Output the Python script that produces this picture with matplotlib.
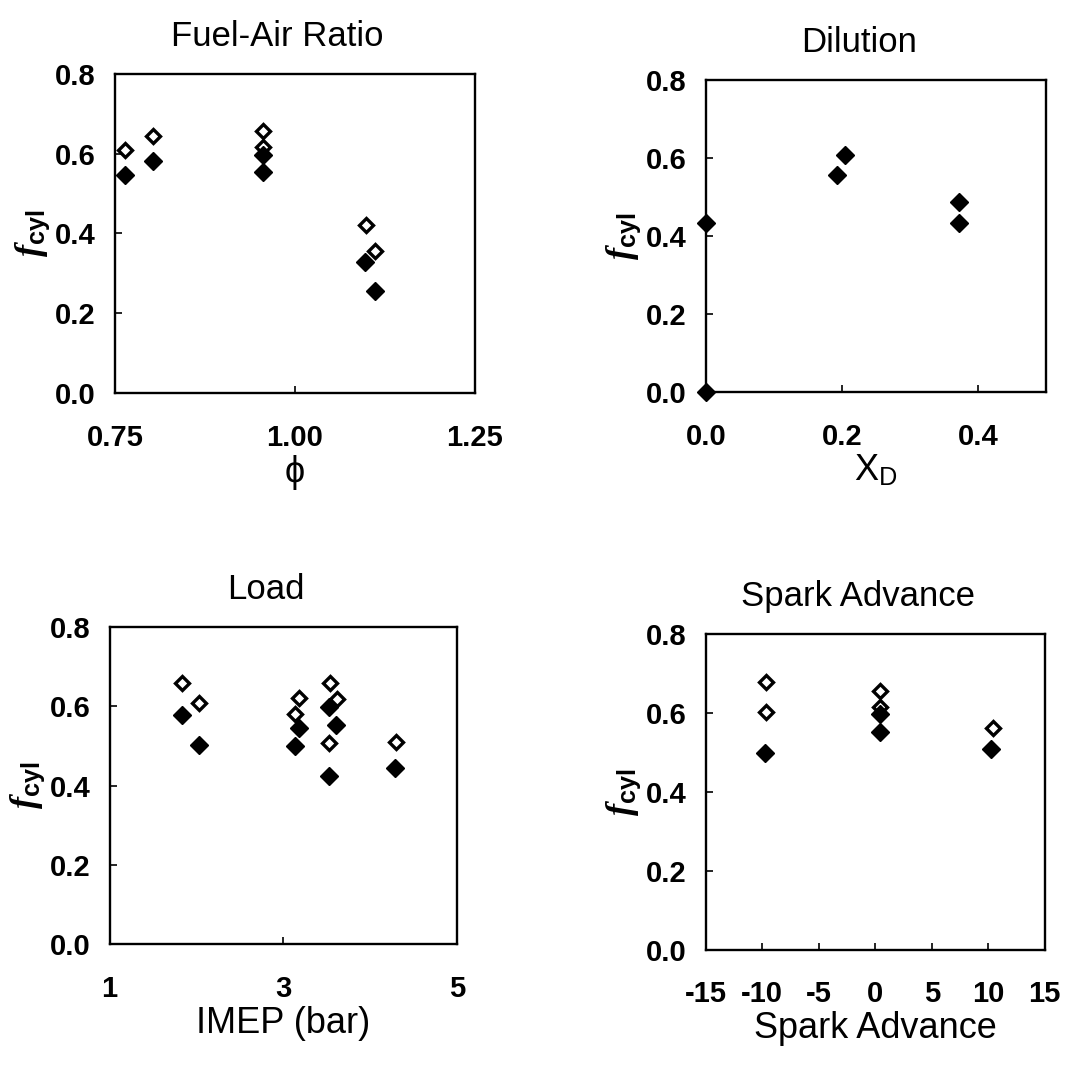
import matplotlib
matplotlib.use("Agg")
import matplotlib.pyplot as plt

plt.rcParams["font.family"] = ["Liberation Sans", "DejaVu Sans"]
plt.rcParams["mathtext.fontset"] = "custom"
plt.rcParams["mathtext.rm"] = "Liberation Sans"
plt.rcParams["mathtext.it"] = "Liberation Serif:italic:bold"
plt.rcParams["mathtext.bf"] = "Liberation Sans:bold"

# Fuel-air ratio panel
phi_open = [0.764, 0.803, 0.956, 0.956, 1.099, 1.112]
fcyl_phi_open = [0.61, 0.645, 0.657, 0.617, 0.422, 0.357]
phi_filled = [0.764, 0.803, 0.956, 0.956, 1.097, 1.111]
fcyl_phi_filled = [0.545, 0.58, 0.597, 0.553, 0.328, 0.255]

# Dilution panel
xd_filled = [0.0, 0.0, 0.193, 0.204, 0.372, 0.372]
fcyl_xd_filled = [0.0, 0.433, 0.556, 0.608, 0.487, 0.433]

# Load panel
imep_open = [1.83, 2.03, 3.18, 3.13, 3.54, 3.62, 3.53, 4.29]
fcyl_imep_open = [0.658, 0.607, 0.620, 0.580, 0.658, 0.618, 0.508, 0.511]
imep_filled = [1.83, 2.03, 3.18, 3.13, 3.53, 3.61, 3.53, 4.28]
fcyl_imep_filled = [0.577, 0.502, 0.544, 0.500, 0.597, 0.553, 0.424, 0.445]

# Spark advance panel
spark_open = [-9.7, -9.7, 0.4, 0.4, 10.4]
fcyl_spark_open = [0.678, 0.602, 0.655, 0.616, 0.562]
spark_filled = [-9.8, 0.4, 0.4, 10.2]
fcyl_spark_filled = [0.498, 0.597, 0.553, 0.508]

y_ticks = [0.0, 0.2, 0.4, 0.6, 0.8]


def style_axes(ax, title, xlabel, xlim, xticks, xticklabels):
    ax.set_xlim(xlim)
    ax.set_ylim(0, 0.8)
    ax.set_xticks(xticks)
    ax.set_xticklabels(xticklabels)
    ax.set_yticks(y_ticks)
    ax.set_yticklabels([f"{v:.1f}" for v in y_ticks])
    for s in ax.spines.values():
        s.set_linewidth(1.7)
    ax.tick_params(direction="in", length=5, width=1.2, labelsize=21)
    ax.tick_params(axis="x", pad=22)
    ax.tick_params(axis="y", pad=14)
    for lab in ax.get_xticklabels() + ax.get_yticklabels():
        lab.set_fontweight("bold")
    ax.set_title(title, fontsize=25, pad=20, x=0.45)
    ax.set_xlabel(xlabel, fontsize=26, labelpad=2)
    ax.set_ylabel(r"$\mathit{f}_{\mathbf{cyl}}$", fontsize=26, labelpad=2)


def plot_points(ax, xo, yo, xf, yf):
    if xo:
        ax.plot(xo, yo, "D", ms=7.5, mfc="white", mec="black", mew=2.4, clip_on=False)
    ax.plot(xf, yf, "D", ms=9, mfc="black", mec="black", clip_on=False)


fig = plt.figure(figsize=(10.86, 10.66), dpi=100)
ax1 = fig.add_axes([0.106, 0.631, 0.331, 0.300])
ax2 = fig.add_axes([0.650, 0.632, 0.313, 0.293])
ax3 = fig.add_axes([0.101, 0.114, 0.320, 0.298])
ax4 = fig.add_axes([0.650, 0.109, 0.312, 0.296])

plot_points(ax1, phi_open, fcyl_phi_open, phi_filled, fcyl_phi_filled)
style_axes(ax1, "Fuel-Air Ratio", "\u03d5", (0.75, 1.25),
           [0.75, 1.0, 1.25], ["0.75", "1.00", "1.25"])

plot_points(ax2, [], [], xd_filled, fcyl_xd_filled)
style_axes(ax2, "Dilution", r"X$_\mathrm{D}$", (0.0, 0.5),
           [0.0, 0.2, 0.4], ["0.0", "0.2", "0.4"])

plot_points(ax3, imep_open, fcyl_imep_open, imep_filled, fcyl_imep_filled)
style_axes(ax3, "Load", "IMEP (bar)", (1, 5), [1, 3, 5], ["1", "3", "5"])

plot_points(ax4, spark_open, fcyl_spark_open, spark_filled, fcyl_spark_filled)
spark_ticks = [-15, -10, -5, 0, 5, 10, 15]
style_axes(ax4, "Spark Advance", "Spark Advance", (-15, 15),
           spark_ticks, [str(t) for t in spark_ticks])

fig.savefig("out.png", dpi=100)
